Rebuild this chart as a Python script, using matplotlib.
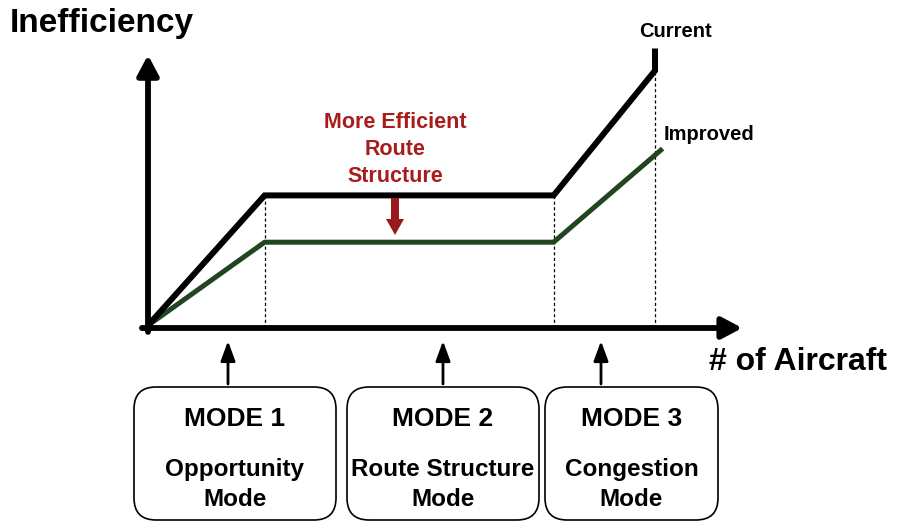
import matplotlib.pyplot as plt
from matplotlib.patches import FancyBboxPatch

# curve data (arbitrary units: # of aircraft vs inefficiency)
current_x = [0, 2.3, 8.0, 10.0, 10.0]
current_y = [0.1, 5.1, 5.1, 9.9, 10.75]
improved_x = [0, 2.3, 8.0, 10.15]
improved_y = [0.1, 3.3, 3.3, 6.9]
mode_edges = [2.3, 8.0, 10.0]
edge_tops = [5.1, 5.1, 9.9]

mode_titles = ["MODE 1", "MODE 2", "MODE 3"]
mode_names = ["Opportunity\nMode", "Route Structure\nMode", "Congestion\nMode"]
note_lines = ["More Efficient", "Route", "Structure"]

GREEN = "#21461f"
RED = "#a81c1c"
W, H = 898, 522
ORIGIN = (148, 328)   # pixel position of the axes origin
SX, SY = 50.7, 26.0   # pixels per data unit

plt.rcParams['font.family'] = ['Liberation Sans', 'DejaVu Sans']
plt.rcParams['font.weight'] = 'bold'

fig = plt.figure(figsize=(W / 100, H / 100), dpi=100)
fig.patch.set_facecolor("white")

# main axes in data units, mapped so the origin sits at ORIGIN
ax = fig.add_axes([0, 0, 1, 1])
ax.set_xlim(-ORIGIN[0] / SX, (W - ORIGIN[0]) / SX)
ax.set_ylim(-(H - ORIGIN[1]) / SY, ORIGIN[1] / SY)
ax.axis("off")

ax.vlines(mode_edges, 0, edge_tops, colors="black", linestyles=(0, (2.5, 2)), lw=0.9)
ax.plot(improved_x, improved_y, color=GREEN, lw=3.6, solid_capstyle="butt", solid_joinstyle="miter")
ax.plot(current_x, current_y, color="black", lw=4.3, solid_capstyle="butt", solid_joinstyle="miter")

axis_arrow = dict(arrowstyle="-|>,head_length=0.6,head_width=0.32", lw=4.2, color="black",
                  mutation_scale=20, shrinkA=0, shrinkB=0)
ax.annotate("", xy=(0, 10.5), xytext=(0, -0.15), arrowprops=axis_arrow)
ax.annotate("", xy=(11.72, 0), xytext=(-0.12, 0), arrowprops=axis_arrow)

# overlay in pixel coordinates for labels and mode boxes
ov = fig.add_axes([0, 0, 1, 1])
ov.set_xlim(0, W)
ov.set_ylim(H, 0)
ov.axis("off")

ov.text(10, 32, "Inefficiency", fontsize=24, ha="left", va="baseline")
ov.text(709, 370, "# of Aircraft", fontsize=23, ha="left", va="baseline")
ov.text(675, 37, "Current", fontsize=14.5, ha="center", va="baseline")
ov.text(664, 140, "Improved", fontsize=14.5, ha="left", va="baseline")

for i, line in enumerate(note_lines):
    ov.text(395, 128 + 27 * i, line, fontsize=15.5, color=RED, ha="center", va="baseline")
ov.arrow(395, 198, 0, 37, width=8, head_width=18, head_length=16,
         length_includes_head=True, color="#9a1a1a", lw=0)

box_spans = [(134, 336), (347, 539), (545, 718)]
arrow_xs = [228, 443, 601]
for (x0, x1), ax_x, title, name in zip(box_spans, arrow_xs, mode_titles, mode_names):
    ov.add_patch(FancyBboxPatch((x0, 387), x1 - x0, 133,
                                boxstyle="round,pad=0,rounding_size=22",
                                fc="white", ec="black", lw=1.2))
    cx = (x0 + x1) / 2
    ov.text(cx, 426, title, fontsize=19, ha="center", va="baseline")
    ov.text(cx, 476, name.split("\n")[0], fontsize=17.5, ha="center", va="baseline")
    ov.text(cx, 506, name.split("\n")[1], fontsize=17.5, ha="center", va="baseline")
    ov.annotate("", xy=(ax_x, 341), xytext=(ax_x, 384),
                arrowprops=dict(arrowstyle="-|>,head_length=0.6,head_width=0.22", lw=2,
                                color="black", mutation_scale=20, shrinkA=0, shrinkB=0))

fig.savefig("out.png", dpi=100)
